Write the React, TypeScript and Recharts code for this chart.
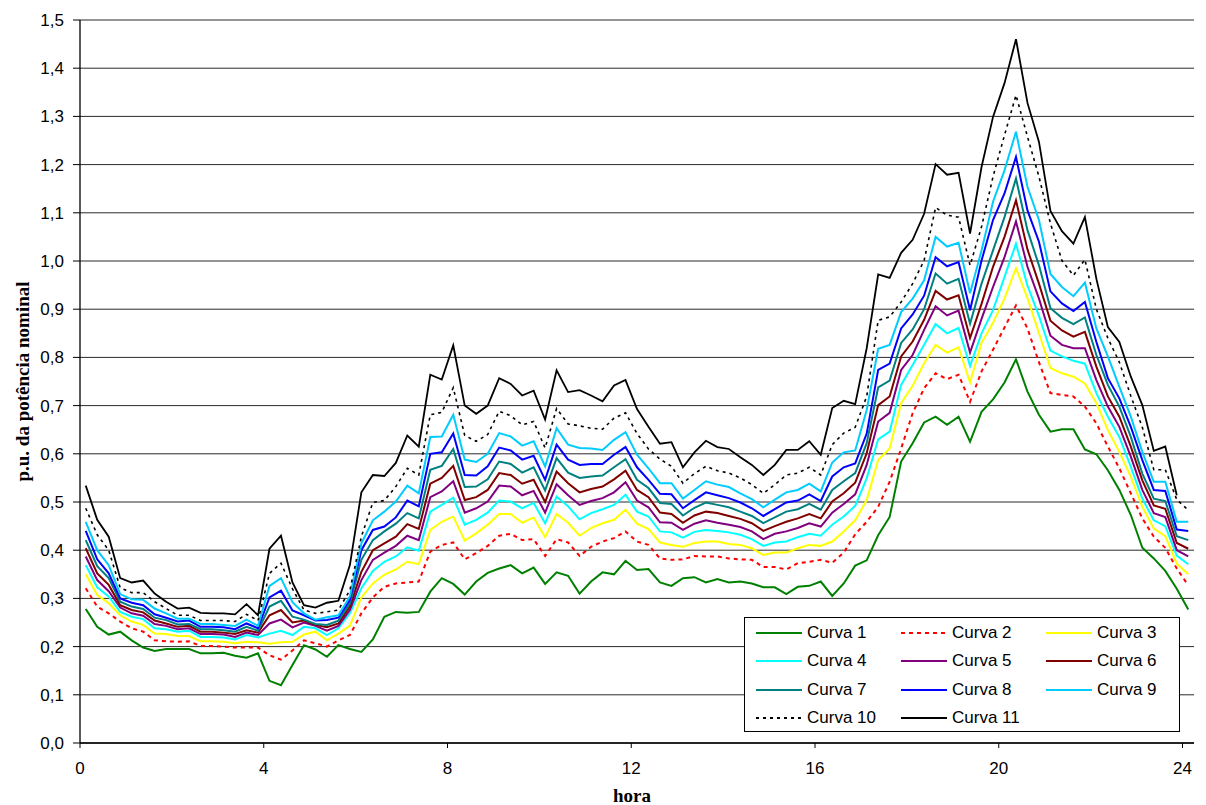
import React from 'react';
import { LineChart, Line, XAxis, YAxis, CartesianGrid, Legend, Label } from 'recharts';

const hourTicks = [0, 4, 8, 12, 16, 20, 24];
const yTicks = [0, 0.1, 0.2, 0.3, 0.4, 0.5, 0.6, 0.7, 0.8, 0.9, 1.0, 1.1, 1.2, 1.3, 1.4, 1.5];
const seriesNames = ['Curva 1', 'Curva 2', 'Curva 3', 'Curva 4', 'Curva 5', 'Curva 6', 'Curva 7', 'Curva 8', 'Curva 9', 'Curva 10', 'Curva 11'];

const curva1 = [
  0.278, 0.241, 0.225, 0.231, 0.213, 0.198, 0.191, 0.195, 0.195, 0.195,
  0.186, 0.186, 0.187, 0.181, 0.177, 0.186, 0.129, 0.12, 0.162, 0.203,
  0.194, 0.179, 0.203, 0.195, 0.189, 0.215, 0.262, 0.272, 0.27, 0.272,
  0.314, 0.342, 0.33, 0.308, 0.335, 0.353, 0.362, 0.369, 0.352, 0.364,
  0.33, 0.354, 0.347, 0.31, 0.335, 0.354, 0.35, 0.378, 0.359, 0.361,
  0.333, 0.326, 0.342, 0.344, 0.333, 0.34, 0.333, 0.335, 0.331, 0.323,
  0.323, 0.309, 0.324, 0.326, 0.335, 0.305, 0.331, 0.368, 0.379, 0.431,
  0.469, 0.584, 0.622, 0.665, 0.677, 0.66, 0.677, 0.625, 0.687, 0.713,
  0.748, 0.796, 0.729, 0.681, 0.646, 0.651, 0.651, 0.609, 0.599, 0.566,
  0.525, 0.473, 0.405, 0.383, 0.357, 0.32, 0.277,
];
const curva2 = [
  0.321, 0.283, 0.269, 0.252, 0.238, 0.231, 0.213, 0.211, 0.21, 0.211,
  0.201, 0.201, 0.2, 0.198, 0.198, 0.198, 0.182, 0.173, 0.192, 0.213,
  0.207, 0.2, 0.213, 0.224, 0.269, 0.302, 0.324, 0.331, 0.333, 0.335,
  0.397, 0.411, 0.416, 0.381, 0.394, 0.409, 0.43, 0.434, 0.421, 0.423,
  0.388, 0.423, 0.416, 0.388, 0.407, 0.418, 0.425, 0.439, 0.418, 0.411,
  0.383, 0.38, 0.381, 0.388, 0.387, 0.387, 0.383, 0.381, 0.38, 0.365,
  0.365, 0.36, 0.373, 0.376, 0.38, 0.374, 0.395, 0.433, 0.459, 0.49,
  0.542, 0.611, 0.684, 0.736, 0.767, 0.755, 0.764, 0.708, 0.771, 0.816,
  0.862, 0.908, 0.86, 0.79, 0.726, 0.722, 0.719, 0.698, 0.663, 0.615,
  0.57, 0.518, 0.466, 0.428, 0.405, 0.362, 0.327,
];
const curva3 = [
  0.35, 0.307, 0.29, 0.265, 0.252, 0.245, 0.227, 0.226, 0.222, 0.222,
  0.211, 0.211, 0.21, 0.207, 0.21, 0.209, 0.206, 0.209, 0.21, 0.225,
  0.231, 0.213, 0.227, 0.243, 0.302, 0.331, 0.349, 0.36, 0.376, 0.371,
  0.442, 0.459, 0.47, 0.42, 0.435, 0.453, 0.475, 0.475, 0.457, 0.468,
  0.427, 0.475, 0.457, 0.43, 0.446, 0.456, 0.463, 0.484, 0.455, 0.444,
  0.416, 0.411, 0.407, 0.415, 0.418, 0.418, 0.413, 0.411, 0.404, 0.39,
  0.395, 0.395, 0.404, 0.411, 0.409, 0.418, 0.439, 0.462, 0.504, 0.587,
  0.611, 0.705, 0.741, 0.788, 0.826, 0.81, 0.821, 0.748, 0.83, 0.872,
  0.922, 0.985, 0.923, 0.85, 0.778, 0.767, 0.76, 0.746, 0.705, 0.649,
  0.604, 0.552, 0.49, 0.445, 0.429, 0.372, 0.35,
];
const curva4 = [
  0.369, 0.323, 0.304, 0.272, 0.262, 0.257, 0.238, 0.236, 0.231, 0.233,
  0.22, 0.22, 0.219, 0.215, 0.224, 0.219, 0.227, 0.233, 0.224, 0.241,
  0.238, 0.224, 0.238, 0.269, 0.321, 0.357, 0.376, 0.387, 0.406, 0.399,
  0.48, 0.494, 0.509, 0.453, 0.463, 0.478, 0.503, 0.501, 0.487, 0.498,
  0.456, 0.511, 0.491, 0.464, 0.477, 0.485, 0.494, 0.515, 0.48, 0.47,
  0.439, 0.437, 0.426, 0.438, 0.442, 0.44, 0.437, 0.432, 0.423, 0.409,
  0.416, 0.418, 0.427, 0.434, 0.43, 0.453, 0.47, 0.492, 0.549, 0.63,
  0.646, 0.743, 0.784, 0.826, 0.869, 0.85, 0.861, 0.782, 0.85, 0.898,
  0.967, 1.036, 0.949, 0.886, 0.814, 0.802, 0.793, 0.787, 0.726, 0.677,
  0.635, 0.573, 0.507, 0.462, 0.45, 0.389, 0.371,
];
const curva5 = [
  0.387, 0.338, 0.315, 0.281, 0.269, 0.264, 0.247, 0.243, 0.236, 0.238,
  0.226, 0.226, 0.225, 0.22, 0.229, 0.224, 0.248, 0.256, 0.24, 0.25,
  0.243, 0.233, 0.243, 0.276, 0.338, 0.38, 0.395, 0.409, 0.43, 0.421,
  0.51, 0.522, 0.543, 0.478, 0.487, 0.501, 0.534, 0.532, 0.514, 0.523,
  0.478, 0.537, 0.514, 0.494, 0.502, 0.508, 0.52, 0.541, 0.503, 0.489,
  0.458, 0.457, 0.442, 0.455, 0.462, 0.457, 0.453, 0.448, 0.439, 0.423,
  0.434, 0.439, 0.446, 0.456, 0.449, 0.478, 0.496, 0.516, 0.577, 0.667,
  0.685, 0.774, 0.805, 0.857, 0.906, 0.887, 0.897, 0.81, 0.88, 0.946,
  1.008, 1.082, 0.988, 0.922, 0.845, 0.826, 0.819, 0.819, 0.753, 0.698,
  0.656, 0.594, 0.525, 0.477, 0.469, 0.4, 0.387,
];
const curva6 = [
  0.404, 0.352, 0.328, 0.286, 0.276, 0.271, 0.254, 0.248, 0.241, 0.243,
  0.231, 0.231, 0.229, 0.226, 0.234, 0.229, 0.265, 0.276, 0.25, 0.254,
  0.245, 0.24, 0.248, 0.283, 0.355, 0.4, 0.414, 0.428, 0.454, 0.444,
  0.538, 0.55, 0.575, 0.504, 0.51, 0.525, 0.56, 0.556, 0.538, 0.546,
  0.5, 0.563, 0.539, 0.52, 0.527, 0.532, 0.547, 0.565, 0.525, 0.51,
  0.478, 0.475, 0.457, 0.472, 0.48, 0.477, 0.471, 0.465, 0.456, 0.44,
  0.45, 0.459, 0.466, 0.475, 0.466, 0.501, 0.518, 0.54, 0.601, 0.701,
  0.719, 0.802, 0.833, 0.878, 0.938, 0.92, 0.929, 0.84, 0.911, 0.988,
  1.05, 1.126, 1.024, 0.953, 0.876, 0.856, 0.843, 0.853, 0.781, 0.719,
  0.677, 0.615, 0.545, 0.493, 0.486, 0.415, 0.403,
];
const curva7 = [
  0.421, 0.367, 0.342, 0.293, 0.283, 0.278, 0.26, 0.255, 0.246, 0.247,
  0.236, 0.236, 0.234, 0.231, 0.241, 0.233, 0.283, 0.295, 0.262, 0.256,
  0.247, 0.245, 0.254, 0.29, 0.38, 0.421, 0.439, 0.455, 0.477, 0.466,
  0.567, 0.575, 0.61, 0.531, 0.532, 0.547, 0.584, 0.579, 0.561, 0.572,
  0.524, 0.591, 0.561, 0.55, 0.553, 0.555, 0.572, 0.589, 0.546, 0.529,
  0.498, 0.496, 0.472, 0.488, 0.499, 0.494, 0.489, 0.48, 0.471, 0.456,
  0.468, 0.48, 0.485, 0.496, 0.484, 0.525, 0.543, 0.56, 0.622, 0.738,
  0.752, 0.83, 0.858, 0.9, 0.974, 0.953, 0.963, 0.87, 0.953, 1.022,
  1.091, 1.171, 1.064, 0.991, 0.902, 0.882, 0.869, 0.883, 0.805, 0.743,
  0.698, 0.635, 0.559, 0.507, 0.502, 0.429, 0.421,
];
const curva8 = [
  0.44, 0.381, 0.352, 0.3, 0.291, 0.286, 0.267, 0.26, 0.252, 0.254,
  0.241, 0.241, 0.24, 0.236, 0.248, 0.238, 0.302, 0.316, 0.275, 0.265,
  0.254, 0.255, 0.26, 0.297, 0.4, 0.442, 0.449, 0.468, 0.503, 0.491,
  0.6, 0.603, 0.642, 0.556, 0.555, 0.574, 0.613, 0.607, 0.588, 0.596,
  0.546, 0.619, 0.588, 0.577, 0.579, 0.579, 0.598, 0.614, 0.572, 0.546,
  0.517, 0.516, 0.487, 0.504, 0.52, 0.514, 0.508, 0.499, 0.487, 0.471,
  0.485, 0.499, 0.503, 0.516, 0.502, 0.553, 0.572, 0.58, 0.642, 0.774,
  0.787, 0.86, 0.889, 0.928, 1.008, 0.989, 0.998, 0.898, 1.001, 1.085,
  1.14, 1.216, 1.105, 1.04, 0.937, 0.912, 0.896, 0.915, 0.832, 0.757,
  0.715, 0.656, 0.587, 0.525, 0.523, 0.443, 0.44,
];
const curva9 = [
  0.459, 0.4, 0.369, 0.309, 0.298, 0.297, 0.279, 0.269, 0.258, 0.258,
  0.247, 0.247, 0.245, 0.243, 0.256, 0.243, 0.326, 0.342, 0.292, 0.269,
  0.256, 0.261, 0.265, 0.304, 0.414, 0.462, 0.48, 0.501, 0.534, 0.518,
  0.635, 0.636, 0.681, 0.588, 0.583, 0.6, 0.643, 0.636, 0.617, 0.626,
  0.574, 0.653, 0.619, 0.612, 0.611, 0.608, 0.629, 0.645, 0.598, 0.57,
  0.539, 0.539, 0.507, 0.525, 0.543, 0.536, 0.531, 0.518, 0.506, 0.489,
  0.505, 0.52, 0.525, 0.538, 0.522, 0.582, 0.603, 0.607, 0.691, 0.818,
  0.826, 0.894, 0.922, 0.96, 1.05, 1.03, 1.038, 0.933, 1.022, 1.123,
  1.188, 1.268, 1.154, 1.085, 0.973, 0.946, 0.927, 0.955, 0.86, 0.802,
  0.739, 0.677, 0.604, 0.542, 0.542, 0.459, 0.459,
];
const curva10 = [
  0.487, 0.432, 0.4, 0.322, 0.312, 0.312, 0.293, 0.279, 0.265, 0.265,
  0.254, 0.254, 0.254, 0.252, 0.267, 0.254, 0.352, 0.373, 0.32, 0.276,
  0.269, 0.272, 0.276, 0.317, 0.428, 0.499, 0.503, 0.532, 0.57, 0.556,
  0.681, 0.686, 0.737, 0.638, 0.626, 0.64, 0.688, 0.679, 0.66, 0.667,
  0.612, 0.694, 0.662, 0.658, 0.653, 0.651, 0.674, 0.685, 0.642, 0.61,
  0.589, 0.574, 0.539, 0.559, 0.574, 0.565, 0.56, 0.55, 0.536, 0.518,
  0.536, 0.556, 0.56, 0.572, 0.556, 0.619, 0.643, 0.655, 0.719, 0.877,
  0.884, 0.915, 0.953, 1.001, 1.111, 1.095, 1.091, 0.991, 1.071, 1.175,
  1.261, 1.344, 1.258, 1.175, 1.078, 1.001, 0.97, 1.003, 0.9, 0.84,
  0.79, 0.72, 0.655, 0.567, 0.567, 0.505, 0.483,
];
const curva11 = [
  0.534, 0.463, 0.428, 0.342, 0.333, 0.337, 0.31, 0.293, 0.279, 0.281,
  0.27, 0.269, 0.269, 0.267, 0.288, 0.265, 0.403, 0.43, 0.333, 0.286,
  0.281, 0.291, 0.295, 0.369, 0.52, 0.556, 0.554, 0.581, 0.638, 0.615,
  0.764, 0.754, 0.825, 0.7, 0.683, 0.7, 0.757, 0.745, 0.721, 0.731,
  0.671, 0.773, 0.728, 0.732, 0.721, 0.709, 0.742, 0.753, 0.693, 0.656,
  0.621, 0.624, 0.572, 0.603, 0.627, 0.614, 0.61, 0.593, 0.577, 0.556,
  0.577, 0.608, 0.608, 0.626, 0.598, 0.695, 0.71, 0.703, 0.819, 0.972,
  0.965, 1.017, 1.044, 1.098, 1.201, 1.179, 1.183, 1.057, 1.195, 1.299,
  1.369, 1.46, 1.328, 1.247, 1.104, 1.062, 1.036, 1.091, 0.963, 0.863,
  0.832, 0.76, 0.701, 0.606, 0.615, 0.514, null,
];

const seriesValues = [curva1, curva2, curva3, curva4, curva5, curva6, curva7, curva8, curva9, curva10, curva11];
const seriesColors = ['#008000', '#FF0000', '#FFFF00', '#00FFFF', '#800080', '#800000', '#008080', '#0000FF', '#00CCFF', '#000000', '#000000'];
const seriesDash = [undefined, '4 4', undefined, undefined, undefined, undefined, undefined, undefined, undefined, '3 4', undefined];
const seriesWidth = [2, 2, 2, 2, 2, 2, 2, 2, 2, 1.6, 1.8];

// 15-minute intervals, plotted at the centre of each quarter hour
const data = curva1.map((_, i) => {
  const row: Record<string, number | null> = { h: (i + 0.5) / 4 };
  seriesValues.forEach((vals, k) => {
    row['c' + (k + 1)] = vals[i] === undefined ? null : vals[i];
  });
  return row;
});

const SANS = 'Arial, "Liberation Sans", sans-serif';
const SERIF = '"Times New Roman", "Liberation Serif", serif';

const fmt = (v: number) => v.toFixed(1).replace('.', ',');

const LegendBox = () => (
  <div
    style={{
      position: 'relative',
      width: 436,
      height: 115,
      boxSizing: 'border-box',
      border: '1px solid #000',
      background: '#fff',
      fontFamily: SANS,
      fontSize: 17,
      color: '#000',
    }}
  >
    {seriesNames.map((name, k) => {
      const col = k % 3;
      const row = Math.floor(k / 3);
      return (
        <div
          key={name}
          style={{
            position: 'absolute',
            left: 11 + col * 145,
            top: 5 + row * 28.3,
            height: 20,
            display: 'flex',
            alignItems: 'center',
            whiteSpace: 'nowrap',
          }}
        >
          <svg width={46} height={4} style={{ marginRight: 5, display: 'block' }}>
            <line
              x1={0}
              y1={2}
              x2={46}
              y2={2}
              stroke={seriesColors[k]}
              strokeWidth={2}
              strokeDasharray={seriesDash[k]}
            />
          </svg>
          <span style={{ lineHeight: '20px' }}>{name}</span>
        </div>
      );
    })}
  </div>
);

export default function App() {
  return (
    <div style={{ position: 'absolute', left: 0, top: 0, width: 1206, height: 805, background: '#fff' }}>
      <LineChart width={1206} height={805} data={data} margin={{ top: 20, right: 12, bottom: 22, left: 0 }}>
        <CartesianGrid horizontal vertical={false} stroke="#2a2a2a" strokeWidth={1} />
        <XAxis
          dataKey="h"
          type="number"
          domain={[0, 24.25]}
          ticks={hourTicks}
          interval={0}
          height={40}
          tickSize={5}
          tickMargin={14}
          axisLine={{ stroke: '#000', strokeWidth: 1.3 }}
          tickLine={{ stroke: '#000' }}
          tick={{ fill: '#000', fontSize: 17, fontFamily: SANS }}
        >
          <Label
            content={(props: any) => {
              const vb = props.viewBox || { x: 80, y: 742, width: 1114, height: 40 };
              return (
                <text
                  x={vb.x + vb.width / 2 - 5}
                  y={vb.y + vb.height + 19}
                  textAnchor="middle"
                  fontFamily={SERIF}
                  fontWeight="bold"
                  fontSize={19}
                  fill="#000"
                >
                  hora
                </text>
              );
            }}
          />
        </XAxis>
        <XAxis
          xAxisId="top"
          orientation="top"
          dataKey="h"
          type="number"
          domain={[0, 24.25]}
          height={0}
          tick={false}
          tickLine={false}
          axisLine={{ stroke: '#808080', strokeWidth: 1.5 }}
        />
        <YAxis
          domain={[0, 1.5]}
          ticks={yTicks}
          interval={0}
          width={80}
          tickSize={7}
          tickMargin={9}
          tickFormatter={fmt}
          axisLine={{ stroke: '#000', strokeWidth: 1.3 }}
          tickLine={{ stroke: '#000' }}
          tick={{ fill: '#000', fontSize: 17, fontFamily: SANS }}
        >
          <Label
            content={(props: any) => {
              const vb = props.viewBox || { x: 0, y: 20, width: 80, height: 722 };
              const cx = vb.x + 22;
              const cy = vb.y + vb.height / 2;
              return (
                <text
                  x={cx}
                  y={cy}
                  transform={`rotate(-90 ${cx} ${cy})`}
                  textAnchor="middle"
                  dominantBaseline="central"
                  fontFamily={SERIF}
                  fontWeight="bold"
                  fontSize={19}
                  fill="#000"
                >
                  p.u. da potência nominal
                </text>
              );
            }}
          />
        </YAxis>
        <YAxis
          yAxisId="right"
          orientation="right"
          width={0}
          domain={[0, 1.5]}
          tick={false}
          tickLine={false}
          axisLine={{ stroke: '#808080', strokeWidth: 1.5 }}
        />
        {seriesNames.map((name, k) => (
          <Line
            key={name}
            type="linear"
            dataKey={'c' + (k + 1)}
            name={name}
            stroke={seriesColors[k]}
            strokeWidth={seriesWidth[k]}
            strokeDasharray={seriesDash[k]}
            dot={false}
            activeDot={false}
            isAnimationActive={false}
            connectNulls={false}
          />
        ))}
        <Legend
          layout="vertical"
          verticalAlign="middle"
          align="center"
          wrapperStyle={{ position: 'absolute', left: 744, top: 617, width: 436, height: 115, margin: 0, padding: 0 }}
          content={() => <LegendBox />}
        />
      </LineChart>
    </div>
  );
}
